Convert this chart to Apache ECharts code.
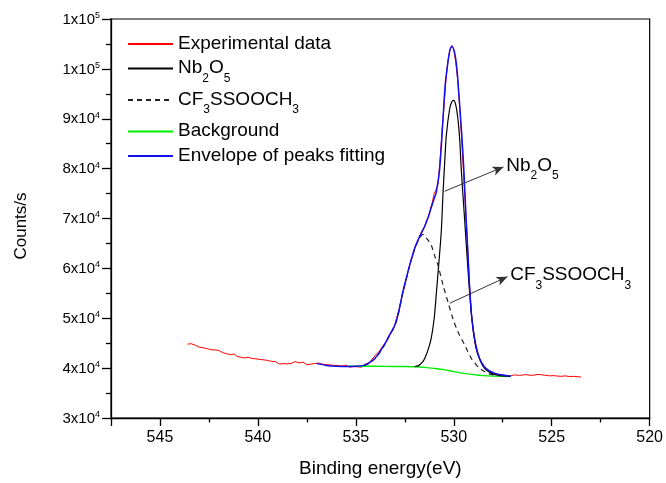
<!DOCTYPE html>
<html>
<head>
<meta charset="utf-8">
<script src="https://cdn.jsdelivr.net/npm/echarts@6/dist/echarts.min.js"></script>
<style>
html,body{margin:0;padding:0;background:#fff;}
#chart{width:666px;height:483px;}
</style>
</head>
<body>
<div id="chart"></div>
<script>
// ---------- data ----------
const expE = [543.6,543.5,543.4,543.3,543.2,543.1,543.0,542.9,542.8,542.7,542.6,542.5,542.4,542.3,542.2,542.1,542.0,541.9,541.8,541.7,541.6,541.5,541.4,541.3,541.2,541.1,541.0,540.9,540.8,540.7,540.6,540.5,540.4,540.3,540.2,540.1,540.0,539.9,539.8,539.7,539.6,539.5,539.4,539.3,539.2,539.1,539.0,538.9,538.8,538.7,538.6,538.5,538.4,538.3,538.2,538.1,538.0,537.9,537.8,537.7,537.6,537.5,537.4,537.3,537.2,537.1,537.0,536.9,536.8,536.7,536.6,536.5,536.4,536.3,536.2,536.1,536.0,535.9,535.8,535.7,535.6,535.5,535.4,535.3,535.2,535.1,535.0,534.9,534.8,534.7,534.6,534.5,534.4,534.3,534.2,534.1,534.0,533.9,533.8,533.7,533.6,533.5,533.4,533.3,533.2,533.1,533.0,532.9,532.8,532.7,532.6,532.5,532.4,532.3,532.2,532.1,532.0,531.9,531.8,531.7,531.6,531.5,531.4,531.3,531.2,531.1,531.0,530.9,530.8,530.7,530.6,530.5,530.4,530.3,530.2,530.1,530.0,529.9,529.8,529.7,529.6,529.5,529.4,529.3,529.2,529.1,529.0,528.9,528.8,528.7,528.6,528.5,528.4,528.3,528.2,528.1,528.0,527.9,527.8,527.7,527.6,527.5,527.4,527.3,527.2,527.1,527.0,526.9,526.8,526.7,526.6,526.5,526.4,526.3,526.2,526.1,526.0,525.9,525.8,525.7,525.6,525.5,525.4,525.3,525.2,525.1,525.0,524.9,524.8,524.7,524.6,524.5,524.4,524.3,524.2,524.1,524.0,523.9,523.8,523.7,523.6,523.5];
const expC = [44800,44650,44900,44500,44600,44350,44200,44450,44100,44250,43900,44050,43700,43450,43650,43300,43550,43200,43100,43350,42900,43000,42700,42600,42850,42400,42550,42200,42350,42050,41950,42150,41800,41950,41700,41850,41600,41750,41500,41650,41400,41550,41250,41350,41100,41300,40950,40800,41050,40900,41150,40850,41200,40950,41100,41300,40900,41050,40750,41200,40950,40700,41050,40800,40600,40950,40750,41000,40650,40800,40500,40700,40450,40650,40300,40550,40350,40500,40250,40450,40300,40600,40350,40200,40550,40300,40450,40250,40600,40200,40500,40850,41200,41100,41700,42000,42600,42700,43400,44000,44200,45000,45500,46400,46800,47700,48800,50300,51700,53500,55000,56600,58200,59800,61300,62500,63900,64900,65900,66900,67700,68300,69500,70400,71800,73200,75000,75800,77000,81800,87500,92500,97800,101500,103800,104700,103900,101300,97800,92500,86000,79000,71800,64600,57200,51000,47000,44700,43000,42100,41200,40600,40200,39700,39500,39300,39100,38900,39200,38700,38900,38500,38800,38400,38700,38450,38300,38650,38350,38550,38250,38600,38400,38700,38300,38550,38350,38600,38450,38750,38500,38650,38350,38550,38200,38450,38300,38500,38150,38400,38100,38350,38250,38450,38150,38300,38100,38350,38150,38300,38100,38200];

const nbE = [532.0,531.8,531.6,531.48,531.3,531.15,531.0,530.89,530.77,530.64,530.55,530.46,530.38,530.21,530.1,530.01,529.9,529.79,529.7,529.62,529.45,529.28,529.11,528.98,528.86,528.65,528.44,528.1,527.76,527.1];
const nbC = [40300,40500,41200,42000,43800,46000,50000,55000,60700,67300,75000,81500,86700,92000,93400,93700,92800,90000,86000,80000,70000,60000,51300,47000,44000,41500,40000,39000,38600,38350];

const cfE = [534.6,534.3,534.0,533.8,533.5,533.3,533.0,532.8,532.6,532.4,532.2,532.0,531.8,531.65,531.57,531.45,531.3,531.15,531.0,530.81,530.55,530.3,530.05,529.79,529.45,529.11,528.9,528.69,528.27,527.9,527.5];
const cfC = [40500,41000,42000,43000,44900,46400,48600,51400,55200,58300,61300,63800,65700,66600,66800,66300,65600,64700,62800,60700,56700,53300,50000,47300,44700,42000,40900,40000,39000,38600,38400];

const bgE = [535.4,534.5,533.5,532.5,532.0,531.5,531.0,530.5,530.0,529.5,529.0,528.5,528.0,527.1];
const bgC = [40400,40380,40350,40320,40280,40150,39950,39700,39300,38950,38700,38500,38400,38300];

const envE = [537.0,536.5,536.0,535.5,535.0,534.6,534.3,534.0,533.8,533.5,533.3,533.0,532.8,532.6,532.4,532.2,532.0,531.8,531.7,531.5,531.3,531.15,531.0,530.89,530.72,530.55,530.44,530.3,530.2,530.1,529.96,529.84,529.71,529.59,529.49,529.37,529.28,529.2,529.08,528.91,528.69,528.44,528.2,527.93,527.5,527.09];
const envC = [40900,40550,40400,40350,40380,40550,41100,42100,43100,45000,46500,48700,51500,55300,58400,61400,64000,65900,66700,68300,70300,72200,74000,75300,80000,90000,96700,101300,103700,104500,103300,100000,93300,86700,80000,70000,63300,56700,50000,45300,42000,40300,39500,39000,38600,38350];

const arrowNb = [[530.47,75460],[527.46,80340]];
const arrowCf = [[530.21,53000],[527.26,58340]];

const xTicks = [520,525,530,535,540,545];
const yTickMant = ['3','4','5','6','7','8','9','1','1'];
const yTickExp  = ['4','4','4','4','4','4','4','5','5'];
const yTickVals = [30000,40000,50000,60000,70000,80000,90000,100000,110000];

const seriesNames = ['Experimental data','Nb2O5','CF3SSOOCH3','Background','Envelope of peaks fitting'];
const legendRich = {
  'Experimental data': '{n|Experimental data}',
  'Nb2O5': '{n|Nb}{s|2}{n|O}{s|5}',
  'CF3SSOOCH3': '{n|CF}{s|3}{n|SSOOCH}{s|3}',
  'Background': '{n|Background}',
  'Envelope of peaks fitting': '{n|Envelope of peaks fitting}'
};

function pairs(a, b) { return a.map((v, i) => [v, b[i]]); }

// ---------- chart ----------
const FONT = '"Liberation Sans", Arial, sans-serif';
const chart = echarts.init(document.getElementById('chart'), null, {renderer: 'canvas'});

const subRich = {
  n: {fontSize: 19, fontFamily: FONT, color: '#000', lineHeight: 20, verticalAlign: 'top'},
  s: {fontSize: 12, fontFamily: FONT, color: '#000', lineHeight: 12, verticalAlign: 'top', padding: [14, 0, 0, 0]}
};

const option = {
  animation: false,
  backgroundColor: '#fff',
  grid: {left: 111, right: 13, top: 19, bottom: 63, show: true, borderColor: '#000', borderWidth: 1.2, backgroundColor: 'transparent'},
  legend: {
    data: seriesNames,
    orient: 'vertical',
    left: 127,
    top: 34,
    padding: 0,
    itemGap: 5.5,
    itemWidth: 45,
    itemHeight: 14,
    itemStyle: {opacity: 0},
    formatter: name => legendRich[name],
    textStyle: {fontSize: 19, fontFamily: FONT, color: '#000', rich: subRich}
  },
  xAxis: {
    type: 'value',
    inverse: true,
    min: 520,
    max: 547.5,
    interval: 5,
    name: 'Binding energy(eV)',
    nameLocation: 'middle',
    nameGap: 41,
    nameTextStyle: {fontSize: 19, fontFamily: FONT, color: '#000'},
    axisLine: {show: true, onZero: false, lineStyle: {color: '#000', width: 1.3}},
    axisTick: {show: true, inside: false, length: 8, lineStyle: {color: '#000', width: 1.3}},
    minorTick: {show: true, splitNumber: 2, length: 4.5, lineStyle: {color: '#000', width: 1.3}},
    splitLine: {show: false},
    axisLabel: {
      margin: 12, fontSize: 16, fontFamily: FONT, color: '#000',
      formatter: v => (xTicks.indexOf(v) >= 0 ? String(v) : '')
    }
  },
  yAxis: {
    type: 'value',
    min: 30000,
    max: 110000,
    interval: 10000,
    name: 'Counts/s',
    nameLocation: 'middle',
    nameGap: 81,
    nameTextStyle: {fontSize: 17, fontFamily: FONT, color: '#000', padding: [0, 15, 0, 0]},
    axisLine: {show: true, onZero: false, lineStyle: {color: '#000', width: 1.3}},
    axisTick: {show: true, inside: false, length: 9, lineStyle: {color: '#000', width: 1.3}},
    minorTick: {show: true, splitNumber: 2, length: 5, lineStyle: {color: '#000', width: 1.3}},
    splitLine: {show: false},
    axisLabel: {
      margin: 11,
      formatter: v => {
        const i = yTickVals.indexOf(v);
        if (i < 0) return '';
        return '{m|' + yTickMant[i] + 'x10}{e|' + yTickExp[i] + '}';
      },
      rich: {
        m: {fontSize: 15, fontFamily: FONT, color: '#000', lineHeight: 16, verticalAlign: 'bottom'},
        e: {fontSize: 9, fontFamily: FONT, color: '#000', lineHeight: 7, verticalAlign: 'top'}
      }
    }
  },
  series: [
    {
      name: 'Experimental data', type: 'line', symbol: 'none',
      data: pairs(expE, expC),
      lineStyle: {color: '#ff0000', width: 1},
      itemStyle: {color: '#ff0000'}
    },
    {
      name: 'Background', type: 'line', symbol: 'none', smooth: 0.3,
      data: pairs(bgE, bgC),
      lineStyle: {color: '#00ee00', width: 1.4},
      itemStyle: {color: '#00ee00'}
    },
    {
      name: 'Nb2O5', type: 'line', symbol: 'none', smooth: 0.3,
      data: pairs(nbE, nbC),
      lineStyle: {color: '#000', width: 1.2},
      itemStyle: {color: '#000'},
      markLine: {
        silent: true, animation: false,
        symbol: ['none', 'arrow'], symbolSize: [7, 11],
        lineStyle: {color: '#333', width: 1, type: 'solid'},
        label: {
          show: true, position: 'end', distance: 3,
          formatter: () => legendRich['Nb2O5'],
          rich: subRich
        },
        data: [[{coord: arrowNb[0]}, {coord: arrowNb[1]}]]
      }
    },
    {
      name: 'CF3SSOOCH3', type: 'line', symbol: 'none', smooth: 0.3,
      data: pairs(cfE, cfC),
      lineStyle: {color: '#222', width: 1.2, type: [5, 4]},
      itemStyle: {color: '#222'},
      markLine: {
        silent: true, animation: false,
        symbol: ['none', 'arrow'], symbolSize: [7, 11],
        lineStyle: {color: '#333', width: 1, type: 'solid'},
        label: {
          show: true, position: 'end', distance: 3,
          formatter: () => legendRich['CF3SSOOCH3'],
          rich: subRich
        },
        data: [[{coord: arrowCf[0]}, {coord: arrowCf[1]}]]
      }
    },
    {
      name: 'Envelope of peaks fitting', type: 'line', symbol: 'none', smooth: 0.3,
      data: pairs(envE, envC),
      lineStyle: {color: '#1010ee', width: 1.5},
      itemStyle: {color: '#1010ee'}
    }
  ]
};
chart.setOption(option);
</script>
</body>
</html>
